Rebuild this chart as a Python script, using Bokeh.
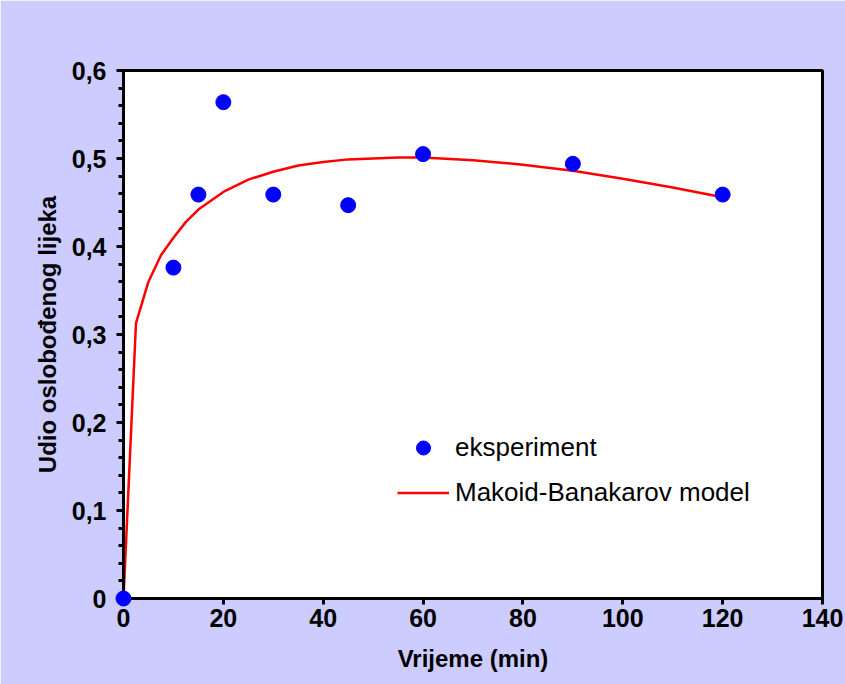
from bokeh.plotting import figure
from bokeh.models import Range1d, Legend, LegendItem, CustomJSTickFormatter, FixedTicker
from bokeh.embed import file_html
from bokeh.resources import INLINE

# experimental data
t_exp = [0, 10, 15, 20, 30, 45, 60, 90, 120]
f_exp = [0.0, 0.376, 0.459, 0.564, 0.459, 0.447, 0.505, 0.494, 0.459]

# Makoid-Banakarov model curve
t_model = [0, 2.5, 5, 7.5, 10, 12.5, 15, 20, 25, 30, 35, 40, 45, 50, 55, 60,
           70, 80, 90, 100, 110, 120]
f_model = [0.0, 0.313, 0.36, 0.39, 0.41, 0.428, 0.442, 0.462, 0.476, 0.485,
           0.492, 0.496, 0.499, 0.500, 0.501, 0.501, 0.498, 0.493, 0.486,
           0.477, 0.467, 0.456]

x_ticks = [0, 20, 40, 60, 80, 100, 120, 140]
y_ticks = [0, 0.1, 0.2, 0.3, 0.4, 0.5, 0.6]

FONT = "Liberation Sans"
BG = "#CCCCFF"

p = figure(width=845, height=684, output_backend="svg", toolbar_location=None,
           x_range=Range1d(0, 140), y_range=Range1d(0, 0.6),
           min_border_left=123, min_border_right=23, min_border_top=70,
           min_border_bottom=86)
p.background_fill_color = "white"
p.border_fill_color = BG
p.outline_line_color = "black"
p.outline_line_width = 3
p.grid.visible = False

line = p.line(t_model, f_model, line_color="#FF0000", line_width=2.5)
pts = p.scatter(t_exp, f_exp, size=15, fill_color="#0000FF", line_color="#0000FF",
                level="overlay")

for ax in (p.xaxis[0], p.yaxis[0]):
    ax.axis_line_color = "black"
    ax.axis_line_width = 3
    ax.major_tick_line_color = "black"
    ax.major_tick_line_width = 3
    ax.minor_tick_line_color = "black"
    ax.minor_tick_line_width = 3
    ax.major_tick_in = 0
    ax.minor_tick_in = 0
    ax.major_label_text_font = FONT
    ax.major_label_text_font_style = "bold"
    ax.major_label_text_font_size = "25px"
    ax.major_label_text_color = "black"
    ax.axis_label_text_font = FONT
    ax.axis_label_text_font_style = "bold"
    ax.axis_label_text_font_size = "24px"
    ax.axis_label_text_color = "black"

xa = p.xaxis[0]
xa.ticker = FixedTicker(ticks=x_ticks)
xa.major_tick_out = 6
xa.major_label_standoff = 4
xa.axis_label = "Vrijeme (min)"
xa.axis_label_standoff = 15

ya = p.yaxis[0]
ya.ticker = FixedTicker(ticks=y_ticks, minor_ticks=[i * 0.02 for i in range(31)])
ya.major_tick_out = 7
ya.minor_tick_out = 5
ya.major_label_standoff = 10
ya.formatter = CustomJSTickFormatter(code="""
    if (Math.abs(tick) < 1e-9) return '0';
    return tick.toFixed(1).replace('.', ',');
""")
ya.axis_label = "Udio oslobođenog lijeka"
ya.axis_label_standoff = 8

legend = Legend(items=[LegendItem(label="eksperiment", renderers=[pts]),
                       LegendItem(label="Makoid-Banakarov model", renderers=[line])],
                location=(274, 88), padding=0, margin=0, spacing=10,
                glyph_width=52, glyph_height=35, label_height=35,
                label_standoff=6, border_line_color=None,
                background_fill_alpha=0,
                label_text_font=FONT, label_text_font_size="26px",
                label_text_color="black")
p.add_layout(legend)

open("out.html", "w").write(file_html(p, INLINE))
